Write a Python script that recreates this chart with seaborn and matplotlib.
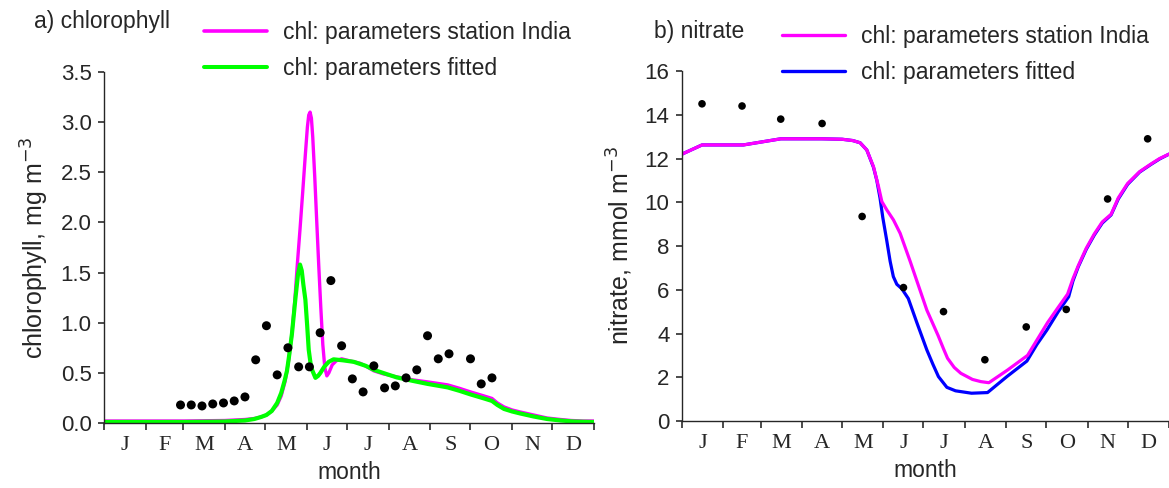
import matplotlib
matplotlib.use("Agg")
import matplotlib.pyplot as plt
from matplotlib.lines import Line2D
import numpy as np
import pandas as pd
import seaborn as sns

# ---- month axis ----
month_edges = [0, 31, 59, 90, 120, 151, 181, 212, 243, 273, 304, 334, 365]
month_labels = ["J", "F", "M", "A", "M", "J", "J", "A", "S", "O", "N", "D"]

# ---- chlorophyll: observations (8-day composites) ----
chl_obs_day = [57, 65, 73, 81, 89, 97, 105, 113, 121, 129, 137, 145, 153, 161, 169,
               177, 185, 193, 201, 209, 217, 225, 233, 241, 249, 257, 273, 281, 289]
chl_obs = [0.18, 0.18, 0.17, 0.19, 0.20, 0.22, 0.26, 0.63, 0.97, 0.48, 0.75, 0.56, 0.56,
           0.90, 1.42, 0.77, 0.44, 0.31, 0.57, 0.35, 0.37, 0.45, 0.53, 0.87, 0.64, 0.69,
           0.64, 0.39, 0.45]

# ---- chlorophyll: model with station India parameters ----
chl_india_day = [0, 30, 60, 90, 105, 112, 117, 121, 125, 129, 132, 135, 137.5, 140, 142, 144,
                 146, 148, 150, 151.5, 152.5, 153.5, 154.5, 155.5, 157, 158.5, 160, 161.5,
                 163, 164.5, 166, 167.5, 170, 173, 177, 183, 191, 196, 201, 208, 218, 230,
                 241, 256, 265, 273, 283, 289, 293, 298, 304, 310, 320, 330, 340, 348, 357, 365]
chl_india = [0.02, 0.02, 0.02, 0.025, 0.035, 0.045, 0.06, 0.08, 0.12, 0.18, 0.27, 0.42, 0.62,
             0.89, 1.2, 1.58, 1.93, 2.3, 2.68, 2.95, 3.07, 3.1, 3.04, 2.85, 2.45, 2.0, 1.56,
             1.15, 0.78, 0.55, 0.47, 0.5, 0.58, 0.62, 0.64, 0.62, 0.595, 0.56, 0.52, 0.49,
             0.46, 0.43, 0.41, 0.38, 0.345, 0.31, 0.27, 0.245, 0.2, 0.16, 0.13, 0.11, 0.08,
             0.05, 0.035, 0.025, 0.02, 0.02]

# ---- chlorophyll: model with fitted parameters ----
chl_fit_day = [0, 30, 60, 90, 105, 112, 117, 121, 125, 129, 132, 134.5, 136.3, 138, 140, 142.5,
               144.5, 146, 147.3, 148.5, 150, 151.3, 152.5, 153.8, 155, 157.5, 159.5, 161.2,
               164, 167.4, 171, 178, 186, 195, 201, 210, 218, 230, 241, 256, 265, 273, 283,
               289, 293, 298, 304, 310, 320, 330, 340, 350, 365]
chl_fit = [0.01, 0.01, 0.01, 0.015, 0.025, 0.04, 0.06, 0.08, 0.12, 0.2, 0.3, 0.42, 0.52, 0.68,
           0.89, 1.23, 1.48, 1.58, 1.52, 1.38, 1.23, 0.98, 0.73, 0.6, 0.53, 0.45, 0.47, 0.5,
           0.56, 0.61, 0.635, 0.625, 0.61, 0.57, 0.53, 0.49, 0.455, 0.42, 0.39, 0.355, 0.32,
           0.285, 0.245, 0.22, 0.18, 0.14, 0.115, 0.095, 0.065, 0.04, 0.025, 0.015, 0.01]

# ---- nitrate: monthly observations ----
no3_obs_day = [15, 45, 74, 105, 135, 166, 196, 227, 258, 288, 319, 349]
no3_obs = [14.5, 14.4, 13.8, 13.6, 9.35, 6.1, 5.0, 2.8, 4.3, 5.1, 10.15, 12.9]

# ---- nitrate: model with station India parameters ----
no3_india_day = [0, 15, 46, 74, 105, 120, 128, 133.5, 138.5, 143.5, 147.3, 149.8, 153.5, 158.5,
                 163.5, 171, 183.5, 192, 196, 199, 204, 209, 217.7, 224, 230, 244, 259, 266,
                 274, 282, 289, 293, 297, 303, 309, 315, 321.6, 327, 334, 343, 351.5, 358, 365]
no3_india = [12.2, 12.62, 12.62, 12.9, 12.9, 12.88, 12.82, 12.72, 12.39, 11.63, 10.71, 10.03,
             9.65, 9.19, 8.58, 7.3, 5.07, 3.9, 3.3, 2.87, 2.45, 2.18, 1.9, 1.8, 1.75, 2.33,
             3.0, 3.7, 4.5, 5.2, 5.8, 6.5, 7.1, 7.9, 8.55, 9.1, 9.45, 10.2, 10.86, 11.4,
             11.75, 12.0, 12.2]

# ---- nitrate: model with fitted parameters ----
no3_fit_day = [0, 15, 46, 74, 105, 120, 128, 133.5, 138.5, 143.5, 146, 148.4, 150.5, 153.4,
               156, 158.4, 161, 164.7, 169.6, 176, 183.5, 188, 192.2, 198.5, 205, 217, 229,
               243.5, 258.5, 266, 273.5, 282, 289.8, 293, 297, 303, 309, 315, 321.6, 327,
               334, 343, 351.5, 358, 365]
no3_fit = [12.2, 12.62, 12.62, 12.9, 12.9, 12.88, 12.82, 12.72, 12.39, 11.6, 11.0, 10.2, 9.3,
           8.27, 7.3, 6.6, 6.25, 6.05, 5.6, 4.5, 3.25, 2.6, 2.03, 1.54, 1.38, 1.27, 1.30,
           2.03, 2.74, 3.5, 4.16, 5.0, 5.68, 6.4, 7.05, 7.85, 8.5, 9.05, 9.42, 10.15, 10.82,
           11.38, 11.73, 11.98, 12.2]

MAGENTA = "#ff00ff"
GREEN = "#00ff00"
BLUE = "#0000ff"

sns.set_theme(style="ticks")
plt.rcParams["font.family"] = ["Liberation Sans", "DejaVu Sans"]
plt.rcParams["axes.linewidth"] = 1.0

fig = plt.figure(figsize=(11.69, 4.88), dpi=100)
ax1 = fig.add_axes([104 / 1169, 1 - 423 / 488, 490 / 1169, 351 / 488])
ax2 = fig.add_axes([682 / 1169, 1 - 421 / 488, 487 / 1169, 350 / 488])

FS = 16.5      # titles and legends
TICK_FS = 16   # numeric tick labels
XLAB_FS = 16.5
YLAB_FS = 18


def style_month_axis(ax):
    ax.set_xlim(0, 365)
    ax.set_xticks(month_edges)
    ax.set_xticklabels([])
    mids = [(a + b) / 2 for a, b in zip(month_edges[:-1], month_edges[1:])]
    ax.set_xticks(mids, minor=True)
    ax.set_xticklabels(month_labels, minor=True, family="Liberation Serif", fontsize=16)
    ax.tick_params(axis="x", which="minor", length=0, pad=9)
    ax.tick_params(axis="x", which="major", length=5, direction="out", color="#333333")
    ax.tick_params(axis="y", labelsize=TICK_FS, length=4, color="#333333", pad=5)
    ax.set_xlabel("month", fontsize=XLAB_FS, labelpad=5)
    sns.despine(ax=ax)


# ---- panel a: chlorophyll ----
df_chl_i = pd.DataFrame({"day": chl_india_day, "chl": chl_india})
df_chl_f = pd.DataFrame({"day": chl_fit_day, "chl": chl_fit})
df_chl_o = pd.DataFrame({"day": chl_obs_day, "chl": chl_obs})
sns.lineplot(data=df_chl_i, x="day", y="chl", ax=ax1, color=MAGENTA, lw=2.4, sort=False)
sns.lineplot(data=df_chl_f, x="day", y="chl", ax=ax1, color=GREEN, lw=3.0, sort=False)
sns.scatterplot(data=df_chl_o, x="day", y="chl", ax=ax1, color="black", s=42,
                edgecolor="none", zorder=3)
ax1.set_ylim(0, 3.5)
ax1.set_yticks(np.arange(0, 3.51, 0.5))
ax1.set_yticklabels([f"{v:.1f}" for v in np.arange(0, 3.51, 0.5)])
ax1.set_ylabel("chlorophyll, mg m$^{-3}$", fontsize=YLAB_FS, labelpad=7)
style_month_axis(ax1)

# ---- panel b: nitrate ----
df_no3_i = pd.DataFrame({"day": no3_india_day, "no3": no3_india})
df_no3_f = pd.DataFrame({"day": no3_fit_day, "no3": no3_fit})
df_no3_o = pd.DataFrame({"day": no3_obs_day, "no3": no3_obs})
sns.lineplot(data=df_no3_f, x="day", y="no3", ax=ax2, color=BLUE, lw=2.3, sort=False)
sns.lineplot(data=df_no3_i, x="day", y="no3", ax=ax2, color=MAGENTA, lw=2.3, sort=False)
sns.scatterplot(data=df_no3_o, x="day", y="no3", ax=ax2, color="black", s=30,
                edgecolor="none", zorder=3)
ax2.set_ylim(0, 16)
ax2.set_yticks(np.arange(0, 16.1, 2))
ax2.set_ylabel("nitrate, mmol m$^{-3}$", fontsize=YLAB_FS, labelpad=7)
style_month_axis(ax2)

# ---- titles and legends ----
fig.text(34 / 1169, 1 - 28 / 488, "a) chlorophyll", fontsize=FS, va="baseline", ha="left")
fig.text(654 / 1169, 1 - 38 / 488, "b) nitrate", fontsize=FS, va="baseline", ha="left")

leg_kw = dict(frameon=False, fontsize=FS, handlelength=2.75, handletextpad=0.68,
              labelspacing=0.54, borderpad=0, borderaxespad=0,
              bbox_transform=fig.transFigure, loc="upper left")
h1 = [Line2D([], [], color=MAGENTA, lw=2.6), Line2D([], [], color=GREEN, lw=2.9)]
ax1.legend(h1, ["chl: parameters station India", "chl: parameters fitted"],
           bbox_to_anchor=(204 / 1169, 1 - 21.5 / 488), **leg_kw)
h2 = [Line2D([], [], color=MAGENTA, lw=2.4), Line2D([], [], color=BLUE, lw=2.4)]
ax2.legend(h2, ["chl: parameters station India", "chl: parameters fitted"],
           bbox_to_anchor=(782 / 1169, 1 - 25.5 / 488), **leg_kw)

fig.savefig("out.png", dpi=100, facecolor="white")
